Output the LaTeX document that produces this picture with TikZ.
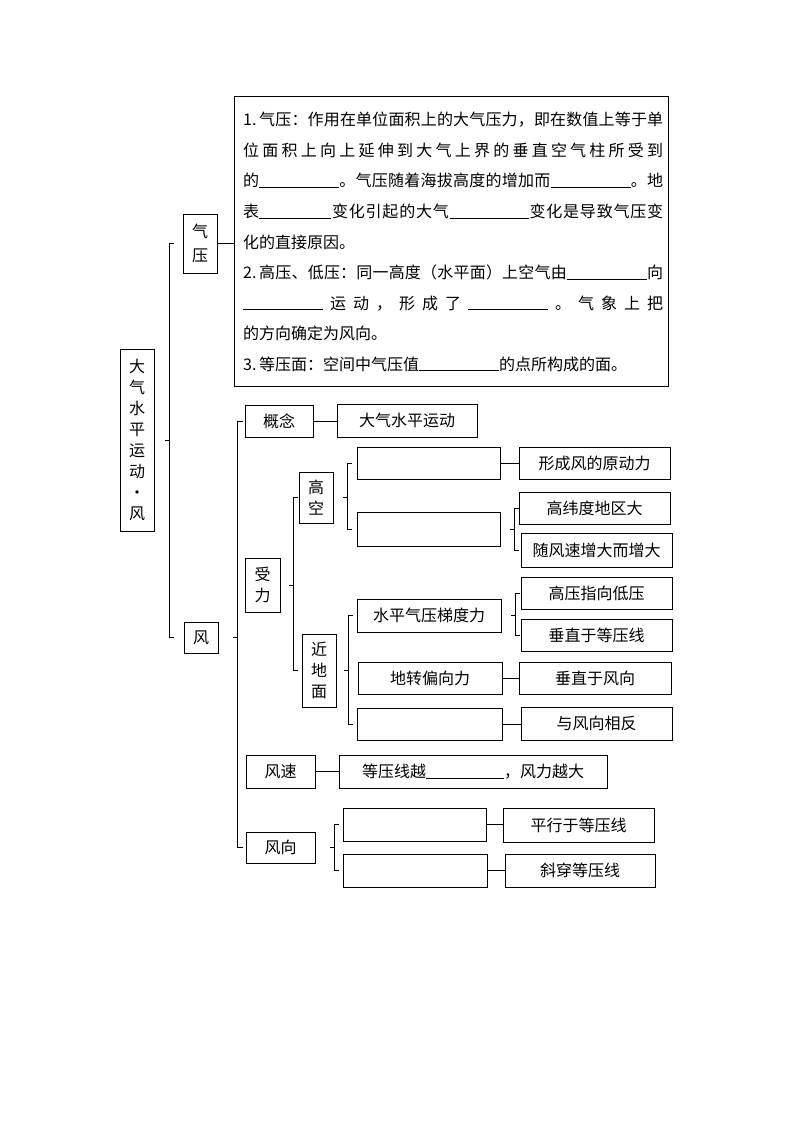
\documentclass[tikz,border=0pt]{standalone}
\usepackage{fontspec}
\newfontfamily\cjk{Noto Sans CJK SC}
\frenchspacing
\tikzset{
  box/.style={draw, line width=0.8pt, inner sep=0pt, align=center},
  ln/.style={line width=0.8pt},
  para/.style={anchor=base west, inner sep=0pt},
}
\newcommand\bx[7][]{\node[box,#1,minimum width={#4-#2},minimum height={#5-#3}] (#6) at ({(#2+#4)/2},{(#3+#5)/2}) {#7};}
\newcommand\brk[4]{%
  \draw[ln] (#1,0 |- #3.center) ++(5,0) -- ++(-5,0) -- (#1,0 |- #4.center) -- ++(5,0);
  \draw[ln] (#1,0 |- #2.center) -- ++(-4.5,0);}
\newcommand\blank[1]{\rule[-1pt]{#1pt}{0.8pt}}
\newcommand\jl[1]{\hbox to 420pt{\spaceskip=0pt plus 1fil\relax #1}}
\newcommand\num[1]{\makebox[16pt][l]{#1}}
\begin{document}
\begin{tikzpicture}[x=1pt,y=-1pt,font=\cjk\fontsize{16}{21}\selectfont]
\fill[white] (0,0) rectangle (794,1123);
\useasboundingbox (0,0) rectangle (794,1123);

% text box
\bx{234}{96}{668}{386}{tb}{}
\node[para] (l1) at (243,126) {\jl{\num{1.}气 压 ： 作 用 在 单 位 面 积 上 的 大 气 压 力 ， 即 在 数 值 上 等 于 单}};
\node[para] (l2) at (243,156.5) {\jl{位 面 积 上 向 上 延 伸 到 大 气 上 界 的 垂 直 空 气 柱 所 受 到}};
\node[para] (l3) at (243,187) {\jl{的\blank{80} 。 气 压 随 着 海 拔 高 度 的 增 加 而 \blank{80} 。 地}};
\node[para] (l4) at (243,217.5) {\jl{表\blank{72} 变 化 引 起 的 大 气 \blank{79} 变 化 是 导 致 气 压 变}};
\node[para] (l5) at (243,248) {化的直接原因。};
\node[para] (l6) at (243,278.5) {\jl{\num{2.}高 压 、 低 压 ： 同 一 高 度 （ 水 平 面 ） 上 空 气 由 \blank{80} 向}};
\node[para] (l7) at (243,309) {\jl{\blank{80} 运 动 ， 形 成 了 \blank{80} 。 气 象 上 把}};
\node[para] (l8) at (243,339.5) {的方向确定为风向。};
\node[para] (l9) at (243,370) {\num{3.}等压面：空间中气压值\blank{80}的点所构成的面。};

% left part
\bx{120}{349}{154}{531}{root}{大\\气\\水\\平\\运\\动\\·\\风}
\bx[font=\cjk\fontsize{16}{24}\selectfont]{183}{214}{217}{273}{qiya}{气\\压}
\bx{184}{622}{218}{653}{feng}{风}

% wind
\bx{245}{405}{313}{437}{gainian}{概念}
\bx{337}{404}{477}{437}{gnval}{大气水平运动}
\bx{245}{558}{280}{612}{shouli}{受\\力}
\bx{299}{472}{333}{523}{gaokong}{高\\空}
\bx{357}{447}{500}{479}{boxA}{}
\bx{519}{447}{670}{479}{yuandong}{形成风的原动力}
\bx{357}{512}{500}{546}{boxB}{}
\bx{519}{492}{670}{524}{gaowei}{高纬度地区大}
\bx{521}{533}{672}{567}{suifeng}{随风速增大而增大}
\bx{302}{634}{336}{707}{jindimian}{近\\地\\面}
\bx{357}{599}{501}{632}{shuiping}{水平气压梯度力}
\bx{521}{577}{672}{609}{gaoya}{高压指向低压}
\bx{521}{619}{672}{651}{chuizhiA}{垂直于等压线}
\bx{358}{662}{502}{694}{dizhuan}{地转偏向力}
\bx{519}{662}{671}{694}{chuizhiB}{垂直于风向}
\bx{357}{708}{502}{740}{boxC}{}
\bx{521}{707}{672}{740}{xiangfan}{与风向相反}
\bx{246}{755}{315}{788}{fengsu}{风速}
\bx{339}{755}{607}{788}{fsval}{等压线越\blank{78}，风力越大}
\bx{246}{832}{315}{863}{fengxiang}{风向}
\bx{343}{808}{486}{841}{boxD}{}
\bx{503}{808}{654}{842}{pingxing}{平行于等压线}
\bx{343}{854}{487}{887}{boxE}{}
\bx{505}{854}{655}{887}{xiechuan}{斜穿等压线}

% straight connectors
\draw[ln] (qiya.east) -- (qiya.east -| tb.west);
\draw[ln] (gainian.east) -- (gainian.east -| gnval.west);
\draw[ln] (boxA.east) -- (boxA.east -| yuandong.west);
\draw[ln] (dizhuan.east) -- (dizhuan.east -| chuizhiB.west);
\draw[ln] (boxC.east) -- (boxC.east -| xiangfan.west);
\draw[ln] (fengsu.east) -- (fengsu.east -| fsval.west);
\draw[ln] (boxD.east) -- (boxD.east -| pingxing.west);
\draw[ln] (boxE.east) -- (boxE.east -| xiechuan.west);

% brackets
\brk{169}{root}{qiya}{feng}
\draw[ln] (237,0 |- gainian.center) ++(6,0) -- ++(-6,0) -- (237,0 |- fengxiang.center) -- ++(6,0);
\draw[ln] (237,0 |- feng.center) -- ++(-4.5,0);
\brk{293}{shouli}{gaokong}{jindimian}
\brk{347}{gaokong}{boxA}{boxB}
\brk{514}{boxB}{gaowei}{suifeng}
\brk{515}{shuiping}{gaoya}{chuizhiA}
\brk{348}{jindimian}{shuiping}{boxC}
\brk{334}{fengxiang}{boxD}{boxE}
\end{tikzpicture}
\end{document}
